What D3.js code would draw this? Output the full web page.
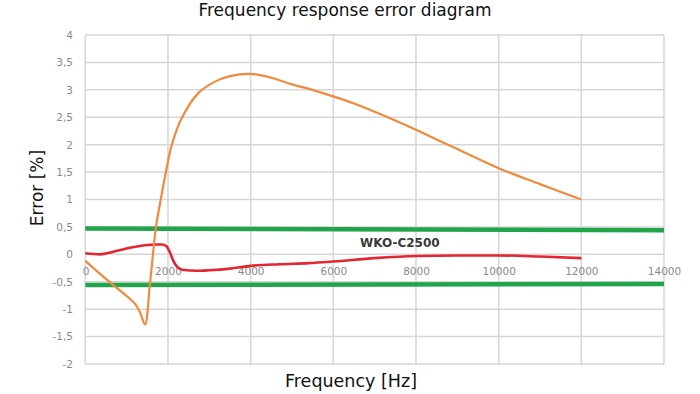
<!DOCTYPE html>
<html><head><meta charset="utf-8">
<script src="https://cdn.jsdelivr.net/npm/d3@7"></script>
<style>html,body{margin:0;padding:0;background:#fff;}svg{display:block;}</style>
</head><body>
<svg id="chart" width="700" height="394"></svg>
<script>
const title = "Frequency response error diagram";
const xLabel = "Frequency [Hz]";
const yLabel = "Error [%]";
const seriesLabel = "WKO-C2500";
const xTicks = [0, 2000, 4000, 6000, 8000, 10000, 12000, 14000];
const yTicks = [-2, -1.5, -1, -0.5, 0, 0.5, 1, 1.5, 2, 2.5, 3, 3.5, 4];

// orange curve (Hz, %)
const orangeFreq = [0, 300, 677, 1000, 1200, 1330, 1444, 1565, 1710, 1823, 1944, 2090, 2331, 2733, 3137, 3500, 4000, 4500, 5000, 5500, 6000, 6500, 7000, 7500, 8000, 9000, 10000, 11000, 12000];
const orangeErr  = [-0.12, -0.32, -0.56, -0.76, -0.9, -1.07, -1.28, -0.53, 0.5, 0.99, 1.48, 1.99, 2.48, 2.94, 3.15, 3.25, 3.29, 3.22, 3.1, 3.0, 2.88, 2.75, 2.6, 2.44, 2.27, 1.92, 1.57, 1.28, 1.0];

// red curve WKO-C2500
const redFreq = [0, 350, 700, 1080, 1400, 1725, 1850, 1960, 2050, 2130, 2210, 2350, 2690, 3000, 3500, 4000, 4700, 5400, 6000, 7000, 8000, 9000, 10000, 11000, 12000];
const redErr  = [0.02, 0.0, 0.05, 0.12, 0.16, 0.18, 0.18, 0.15, 0.03, -0.12, -0.22, -0.28, -0.3, -0.29, -0.26, -0.21, -0.18, -0.16, -0.13, -0.07, -0.03, -0.02, -0.02, -0.04, -0.07];

// green tolerance lines
const tolFreq = [0, 14000];
const tolUpper = [0.47, 0.44];
const tolLower = [-0.56, -0.54];

const svg = d3.select("#chart");
const x = d3.scaleLinear().domain([0, 14000]).range([85.3, 664]);
const y = d3.scaleLinear().domain([-2, 4]).range([364, 35]);

const grid = svg.append("g");
grid.selectAll("line.h").data(yTicks).enter().append("line")
  .attr("x1", x(0)).attr("x2", x(14000))
  .attr("y1", d => y(d)).attr("y2", d => y(d))
  .attr("stroke", "#d6d6d6").attr("stroke-width", 1.5);
grid.selectAll("line.v").data(xTicks).enter().append("line")
  .attr("y1", y(4)).attr("y2", y(-2))
  .attr("x1", d => x(d)).attr("x2", d => x(d))
  .attr("stroke", "#d6d6d6").attr("stroke-width", 1.5);

// y tick labels
const yAxis = d3.axisLeft(y).tickValues(yTicks).tickSize(0).tickPadding(0)
  .tickFormat(d => String(d).replace(".", ","));
const gy = svg.append("g").attr("transform", "translate(73,0)").call(yAxis);
gy.select(".domain").remove();
gy.selectAll("text").attr("fill", "#8a8a8a").style("font-family", "'DejaVu Sans', sans-serif").style("font-size", "10.5px");

// x tick labels at y=0 axis
const xAxis = d3.axisBottom(x).tickValues(xTicks).tickSize(0).tickPadding(0)
  .tickFormat(d => String(d));
const gx = svg.append("g").attr("transform", `translate(0,${y(0) + 13})`).call(xAxis);
gx.select(".domain").remove();
gx.selectAll("text").attr("fill", "#8a8a8a").style("font-family", "'DejaVu Sans', sans-serif").style("font-size", "10.5px");
gx.selectAll(".tick").filter(d => d === 0).select("text").attr("text-anchor", "start").attr("dx", -3);

// green tolerance lines
const tolLine = d3.line().x(d => x(d[0])).y(d => y(d[1]));
[tolUpper, tolLower].forEach(arr => {
  svg.append("path").datum(tolFreq.map((f, i) => [f, arr[i]]))
    .attr("d", tolLine).attr("fill", "none")
    .attr("stroke", "#20a54b").attr("stroke-width", 4.5);
});

// red curve
const lineGen = d3.line().x(d => x(d[0])).y(d => y(d[1])).curve(d3.curveMonotoneX);
svg.append("path").datum(redFreq.map((f, i) => [f, redErr[i]]))
  .attr("d", lineGen).attr("fill", "none")
  .attr("stroke", "#e3262f").attr("stroke-width", 2.6);

// orange curve
const orangeGen = d3.line().x(d => x(d[0])).y(d => y(d[1])).curve(d3.curveCatmullRom.alpha(0.5));
svg.append("path").datum(orangeFreq.map((f, i) => [f, orangeErr[i]]))
  .attr("d", orangeGen).attr("fill", "none")
  .attr("stroke", "#f08a3c").attr("stroke-width", 2.2);

// series label
svg.append("text").attr("x", 360).attr("y", 247).text(seriesLabel)
  .attr("fill", "#3a3a3a").style("font-family", "'DejaVu Sans', sans-serif")
  .style("font-size", "12px").style("font-weight", "bold");

// title
svg.append("text").attr("x", 345).attr("y", 16).attr("text-anchor", "middle").text(title)
  .attr("fill", "#111").style("font-family", "'DejaVu Sans', sans-serif").style("font-size", "17px");

// axis titles
svg.append("text").attr("x", 351).attr("y", 387).attr("text-anchor", "middle").text(xLabel)
  .attr("fill", "#111").style("font-family", "'DejaVu Sans', sans-serif").style("font-size", "17.5px");
svg.append("text").attr("transform", "translate(43,188) rotate(-90)").attr("text-anchor", "middle").text(yLabel)
  .attr("fill", "#111").style("font-family", "'DejaVu Sans', sans-serif").style("font-size", "17px");
</script>
</body></html>
